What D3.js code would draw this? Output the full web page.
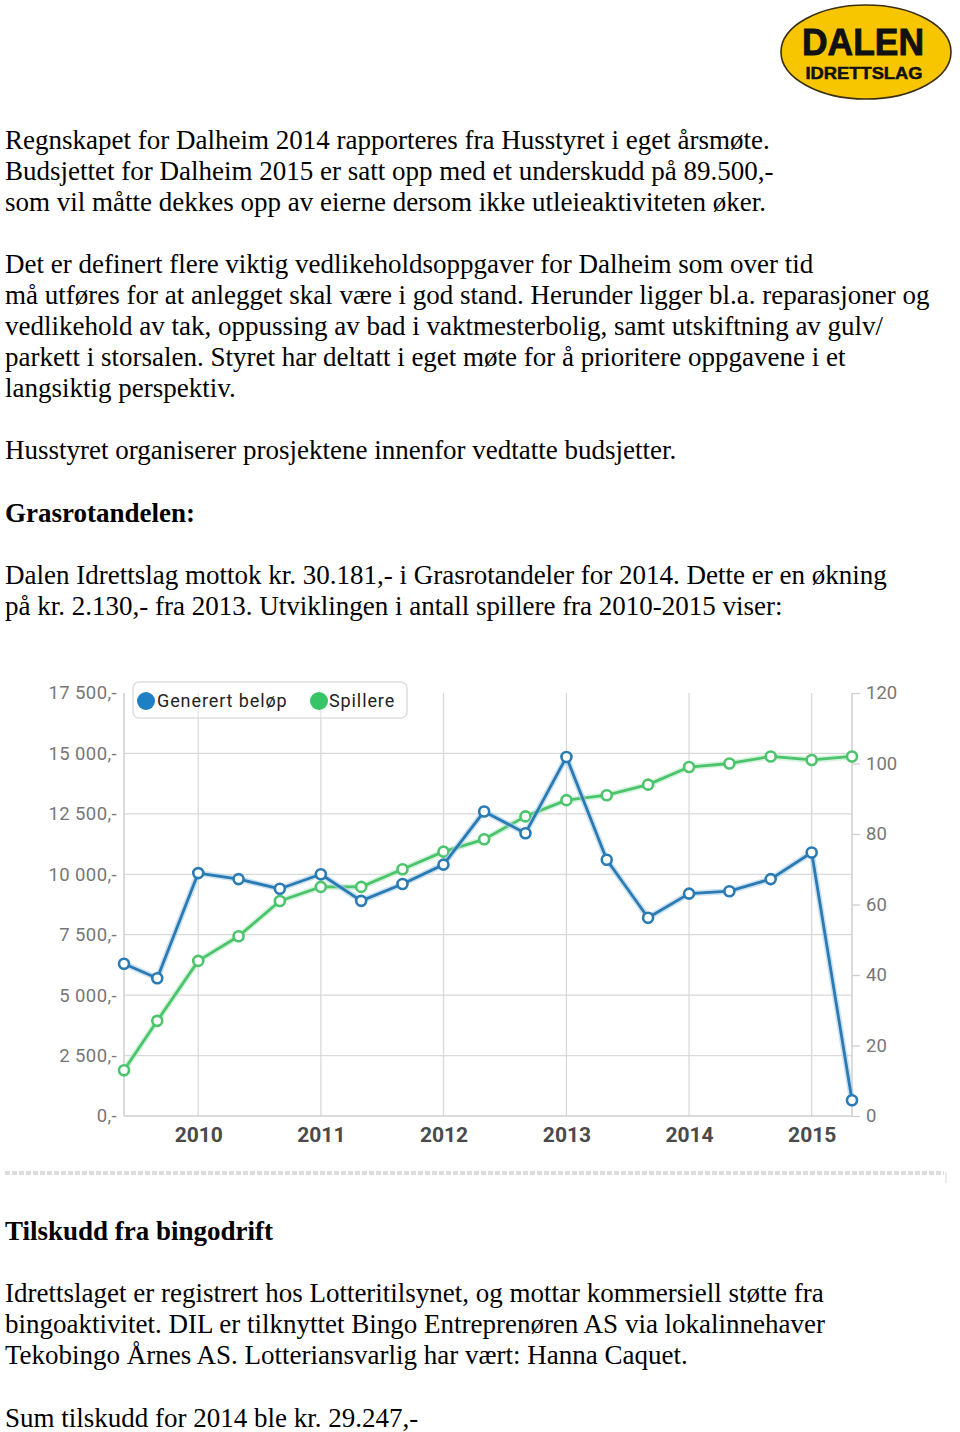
<!DOCTYPE html>
<html>
<head>
<meta charset="utf-8">
<script src="https://cdn.jsdelivr.net/npm/d3@7"></script>
<style>
  html, body { margin: 0; padding: 0; background: #fff; }
  svg { display: block; }
</style>
</head>
<body>
<svg id="page" width="960" height="1432"></svg>
<script>
// ---------- DATA ----------
const dates = ["2009-05-25","2009-09-01","2010-01-01","2010-05-01","2010-09-01",
  "2011-01-01","2011-05-01","2011-09-01","2012-01-01","2012-05-01","2012-09-01",
  "2013-01-01","2013-05-01","2013-09-01","2014-01-01","2014-05-01","2014-09-01",
  "2015-01-01","2015-05-01"];
const belop = [6300, 5700, 10050, 9800, 9400, 10000, 8900, 9600, 10400, 12600, 11700,
  14850, 10600, 8200, 9200, 9300, 9800, 10900, 650];
const spillere = [13, 27, 44, 51, 61, 65, 65, 70, 75, 78.5, 85, 89.6, 91, 94, 99, 100, 102, 101, 102];
const years = [2010, 2011, 2012, 2013, 2014, 2015];
const leftTicks = [0, 2500, 5000, 7500, 10000, 12500, 15000, 17500];
const rightTicks = [0, 20, 40, 60, 80, 100, 120];
const seriesNames = ["Generert beløp", "Spillere"];

const textBlocks = [
  { y: 149, bold: false, lines: [
    "Regnskapet for Dalheim 2014 rapporteres fra Husstyret i eget årsmøte.",
    "Budsjettet for Dalheim 2015 er satt opp med et underskudd på 89.500,-",
    "som vil måtte dekkes opp av eierne dersom ikke utleieaktiviteten øker."]},
  { y: 273, bold: false, lines: [
    "Det er definert flere viktig vedlikeholdsoppgaver for Dalheim som over tid",
    "må utføres for at anlegget skal være i god stand. Herunder ligger bl.a. reparasjoner og",
    "vedlikehold av tak, oppussing av bad i vaktmesterbolig, samt utskiftning av gulv/",
    "parkett i storsalen. Styret har deltatt i eget møte for å prioritere oppgavene i et",
    "langsiktig perspektiv."]},
  { y: 459, bold: false, lines: ["Husstyret organiserer prosjektene innenfor vedtatte budsjetter."]},
  { y: 522, bold: true, lines: ["Grasrotandelen:"]},
  { y: 584, bold: false, lines: [
    "Dalen Idrettslag mottok kr. 30.181,- i Grasrotandeler for 2014. Dette er en økning",
    "på kr. 2.130,- fra 2013. Utviklingen i antall spillere fra 2010-2015 viser:"]},
  { y: 1240, bold: true, lines: ["Tilskudd fra bingodrift"]},
  { y: 1302, bold: false, lines: [
    "Idrettslaget er registrert hos Lotteritilsynet, og mottar kommersiell støtte fra",
    "bingoaktivitet. DIL er tilknyttet Bingo Entreprenøren AS via lokalinnehaver",
    "Tekobingo Årnes AS. Lotteriansvarlig har vært: Hanna Caquet."]},
  { y: 1427, bold: false, lines: ["Sum tilskudd for 2014 ble kr. 29.247,-"]}
];

// ---------- PAGE ----------
const svg = d3.select("#page");
const serif = "'Liberation Serif', 'Times New Roman', serif";
const sans = "Roboto, 'DejaVu Sans', sans-serif";

// Logo
const logo = svg.append("g");
logo.append("ellipse").attr("cx", 866).attr("cy", 52).attr("rx", 85).attr("ry", 47)
  .attr("fill", "#f7c600").attr("stroke", "#3a2e10").attr("stroke-width", 1.6);
logo.append("text").attr("x", 863).attr("y", 55).attr("text-anchor", "middle")
  .attr("font-family", "'Liberation Sans Narrow', 'Liberation Sans', Arial, sans-serif")
  .attr("font-weight", "bold").attr("font-size", 37).attr("fill", "#111")
  .attr("stroke", "#111").attr("stroke-width", 0.9)
  .attr("textLength", 122).attr("lengthAdjust", "spacingAndGlyphs").text("DALEN");
logo.append("text").attr("x", 864).attr("y", 79).attr("text-anchor", "middle")
  .attr("font-family", "'Liberation Sans Narrow', 'Liberation Sans', Arial, sans-serif")
  .attr("font-weight", "bold").attr("font-size", 16).attr("fill", "#111")
  .attr("stroke", "#111").attr("stroke-width", 0.5)
  .attr("textLength", 117).attr("lengthAdjust", "spacingAndGlyphs").text("IDRETTSLAG");

// Paragraphs
const lineH = 31;
textBlocks.forEach(b => {
  b.lines.forEach((ln, i) => {
    svg.append("text").attr("x", 5).attr("y", b.y + i * lineH)
      .attr("font-family", serif).attr("font-size", 27)
      .attr("font-weight", b.bold ? "bold" : "normal")
      .attr("fill", "#000").text(ln);
  });
});

// Separator
svg.append("line").attr("x1", 5).attr("x2", 944).attr("y1", 1173).attr("y2", 1173)
  .attr("stroke", "#dcdcdc").attr("stroke-width", 4).attr("stroke-dasharray", "5,2");
svg.append("line").attr("x1", 946).attr("x2", 946).attr("y1", 1172).attr("y2", 1183)
  .attr("stroke", "#e4e4e4").attr("stroke-width", 1.5);

// ---------- CHART ----------
const parse = d3.timeParse("%Y-%m-%d");
const pts = dates.map((d, i) => ({ date: parse(d), b: belop[i], s: spillere[i] }));
const pLeft = 124, pRight = 852, pTop = 693, pBottom = 1116;

const x = d3.scaleTime().domain(d3.extent(pts, d => d.date)).range([pLeft, pRight]);
const yL = d3.scaleLinear().domain([0, 17500]).range([pBottom, pTop]);
const yR = d3.scaleLinear().domain([0, 120]).range([pBottom, pTop]);

const chart = svg.append("g");
const grid = "#d9d9d9";

// horizontal grid (left ticks, except top)
chart.append("g").selectAll("line").data(leftTicks.filter(t => t > 0 && t < 17500)).join("line")
  .attr("x1", pLeft).attr("x2", pRight).attr("y1", d => yL(d)).attr("y2", d => yL(d))
  .attr("stroke", grid).attr("stroke-width", 1.3);
// vertical grid at years
chart.append("g").selectAll("line").data(years).join("line")
  .attr("x1", d => x(new Date(d, 0, 1))).attr("x2", d => x(new Date(d, 0, 1)))
  .attr("y1", pTop).attr("y2", pBottom).attr("stroke", grid).attr("stroke-width", 1.3);

// axes lines
chart.append("line").attr("x1", pLeft).attr("x2", pLeft).attr("y1", pTop).attr("y2", pBottom)
  .attr("stroke", "#cfcfcf").attr("stroke-width", 1.5);
chart.append("line").attr("x1", pRight).attr("x2", pRight).attr("y1", pTop).attr("y2", pBottom)
  .attr("stroke", "#cfcfcf").attr("stroke-width", 1.5);
chart.append("line").attr("x1", pLeft).attr("x2", pRight).attr("y1", pBottom).attr("y2", pBottom)
  .attr("stroke", "#cfcfcf").attr("stroke-width", 1.5);

// left axis labels
const fmtL = d => (d === 0 ? "0" : d3.format(",")(d).replace(",", " ")) + ",-";
const axL = d3.axisLeft(yL).tickValues(leftTicks).tickSize(0).tickPadding(7).tickFormat(fmtL);
const gL = chart.append("g").attr("transform", `translate(${pLeft},0)`).call(axL);
gL.select(".domain").remove();
gL.selectAll("text").attr("font-family", sans).attr("font-size", 18.5)
  .attr("letter-spacing", 0.4).attr("fill", "#777");

// right axis
const axR = d3.axisRight(yR).tickValues(rightTicks).tickSize(8).tickPadding(6);
const gR = chart.append("g").attr("transform", `translate(${pRight},0)`).call(axR);
gR.select(".domain").remove();
gR.selectAll("line").attr("stroke", "#cfcfcf").attr("stroke-width", 1.3);
gR.selectAll("text").attr("font-family", sans).attr("font-size", 18.5).attr("fill", "#777");

// bottom axis
const axB = d3.axisBottom(x).tickValues(years.map(y => new Date(y, 0, 1)))
  .tickSize(0).tickPadding(11).tickFormat(d3.timeFormat("%Y"));
const gB = chart.append("g").attr("transform", `translate(0,${pBottom})`).call(axB);
gB.select(".domain").remove();
gB.selectAll("text").attr("font-family", sans).attr("font-size", 21)
  .attr("font-weight", "bold").attr("fill", "#4a4a4a");

// legend
const lg = chart.append("g");
lg.append("rect").attr("x", 133).attr("y", 682).attr("width", 274).attr("height", 36).attr("rx", 6)
  .attr("fill", "#fff").attr("fill-opacity", 0.35).attr("stroke", "#dedede").attr("stroke-width", 1.5);
const legendItems = [
  { name: seriesNames[0], color: "#1e7fc2", cx: 146, tx: 157 },
  { name: seriesNames[1], color: "#36c466", cx: 319, tx: 329 }
];
legendItems.forEach(it => {
  lg.append("circle").attr("cx", it.cx).attr("cy", 701).attr("r", 9).attr("fill", it.color);
  lg.append("text").attr("x", it.tx).attr("y", 707).attr("font-family", sans)
    .attr("font-size", 18).attr("letter-spacing", 0.9).attr("fill", "#222").text(it.name);
});

// series
const series = [
  { key: "s", y: yR, color: "#4cc46c", halo: "#b8ebc6" },
  { key: "b", y: yL, color: "#2a7ab4", halo: "#a9cde6" }
];
series.forEach(s => {
  const line = d3.line().x(d => x(d.date)).y(d => s.y(d[s.key]));
  chart.append("path").datum(pts).attr("d", line).attr("fill", "none")
    .attr("stroke", s.halo).attr("stroke-width", 6).attr("stroke-opacity", 0.6)
    .attr("stroke-linejoin", "round");
  chart.append("path").datum(pts).attr("d", line).attr("fill", "none")
    .attr("stroke", s.color).attr("stroke-width", 2.8).attr("stroke-linejoin", "round");
  chart.append("g").selectAll("circle").data(pts).join("circle")
    .attr("cx", d => x(d.date)).attr("cy", d => s.y(d[s.key])).attr("r", 5)
    .attr("fill", "#fff").attr("stroke", s.color).attr("stroke-width", 2.6);
});
</script>
</body>
</html>
